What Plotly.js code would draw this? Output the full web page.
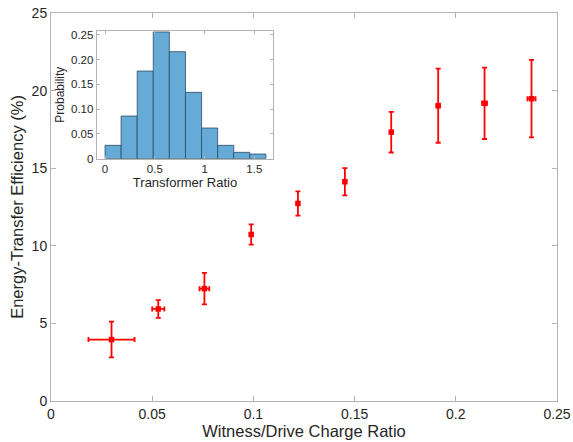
<!DOCTYPE html>
<html>
<head>
<meta charset="utf-8">
<script src="https://cdn.plot.ly/plotly-3.0.1.min.js"></script>
<style>html,body{margin:0;padding:0;background:#fff;}#chart{width:573px;height:442px;}</style>
</head>
<body>
<div id="chart"></div>
<script>
// Main scatter data
const chargeRatio = [0.0299, 0.0530, 0.0758, 0.0989, 0.1220, 0.1452, 0.1681, 0.1913, 0.2142, 0.2374];
const chargeRatioErr = [0.0114, 0.0030, 0.0024, 0.0005, 0.0005, 0.0005, 0.0005, 0.0008, 0.0012, 0.0020];
const efficiency = [3.96, 5.93, 7.24, 10.73, 12.73, 14.13, 17.32, 19.03, 19.18, 19.48];
const efficiencyErr = [1.15, 0.57, 1.01, 0.65, 0.78, 0.88, 1.31, 2.39, 2.30, 2.50];

// Inset histogram data
const binCenters = [0.081, 0.242, 0.404, 0.565, 0.727, 0.889, 1.050, 1.212, 1.373, 1.535];
const probability = [0.0269, 0.0860, 0.1767, 0.2554, 0.2157, 0.1337, 0.0618, 0.0269, 0.0128, 0.0094];
const binWidth = 0.1616;

const mainXTicks = [0, 0.05, 0.1, 0.15, 0.2, 0.25];
const mainXText = ['0', '0.05', '0.1', '0.15', '0.2', '0.25'];
const mainYTicks = [0, 5, 10, 15, 20, 25];
const insetXTicks = [0, 0.5, 1, 1.5];
const insetXText = ['0', '0.5', '1', '1.5'];
const insetYTicks = [0, 0.05, 0.10, 0.15, 0.20, 0.25];
const insetYText = ['0', '0.05', '0.10', '0.15', '0.20', '0.25'];

const textColor = '#262626';
const axisColor = '#b3b3b3';
const font = 'Liberation Sans, Arial, Helvetica, sans-serif';

const traces = [
  {
    type: 'scatter', mode: 'markers',
    x: chargeRatio, y: efficiency,
    error_x: {type: 'data', array: chargeRatioErr, visible: true, color: '#ff0000', thickness: 1.8, width: 2.5},
    error_y: {type: 'data', array: efficiencyErr, visible: true, color: '#ff0000', thickness: 1.8, width: 2.5},
    marker: {symbol: 'square', size: 5.5, color: '#ff0000'},
    xaxis: 'x', yaxis: 'y', showlegend: false, hoverinfo: 'skip'
  },
  {
    type: 'bar',
    x: binCenters, y: probability, width: binWidth,
    marker: {color: '#66aad7', line: {color: '#2b4a63', width: 0.8}},
    xaxis: 'x2', yaxis: 'y2', showlegend: false, hoverinfo: 'skip'
  }
];

const baseAxis = {
  showline: true, linecolor: axisColor, linewidth: 1, mirror: 'ticks',
  ticks: 'inside', tickcolor: axisColor, ticklen: 5, tickwidth: 1,
  showgrid: false, zeroline: false,
  tickfont: {family: font, size: 14, color: textColor}
};

const layout = {
  width: 573, height: 442,
  margin: {l: 51, r: 16, t: 13, b: 41},
  paper_bgcolor: '#ffffff', plot_bgcolor: '#ffffff',
  font: {family: font, color: textColor},
  xaxis: Object.assign({}, baseAxis, {
    domain: [0, 1], range: [0, 0.25], anchor: 'y',
    tickmode: 'array', tickvals: mainXTicks, ticktext: mainXText,
    title: {text: 'Witness/Drive Charge Ratio', font: {family: font, size: 16.5, color: textColor}, standoff: 4}
  }),
  yaxis: Object.assign({}, baseAxis, {
    domain: [0, 1], range: [0, 25], anchor: 'x',
    tickmode: 'array', tickvals: mainYTicks,
    title: {text: 'Energy-Transfer Efficiency (%)', font: {family: font, size: 16.5, color: textColor}, standoff: 3}
  }),
  xaxis2: Object.assign({}, baseAxis, {
    domain: [0.0903, 0.4393], range: [-0.084, 1.69], anchor: 'y2',
    tickmode: 'array', tickvals: insetXTicks, ticktext: insetXText, ticklen: 3,
    tickfont: {family: font, size: 11.5, color: textColor},
    title: {text: 'Transformer Ratio', font: {family: font, size: 13, color: textColor}, standoff: 3}
  }),
  yaxis2: Object.assign({}, baseAxis, {
    domain: [0.6245, 0.9544], range: [0, 0.258], anchor: 'x2',
    tickmode: 'array', tickvals: insetYTicks, ticktext: insetYText, ticklen: 3,
    tickfont: {family: font, size: 11.5, color: textColor},
    title: {text: 'Probability', font: {family: font, size: 12, color: textColor}, standoff: 3}
  }),
  bargap: 0
};

Plotly.newPlot('chart', traces, layout, {staticPlot: true, displayModeBar: false});
</script>
</body>
</html>
